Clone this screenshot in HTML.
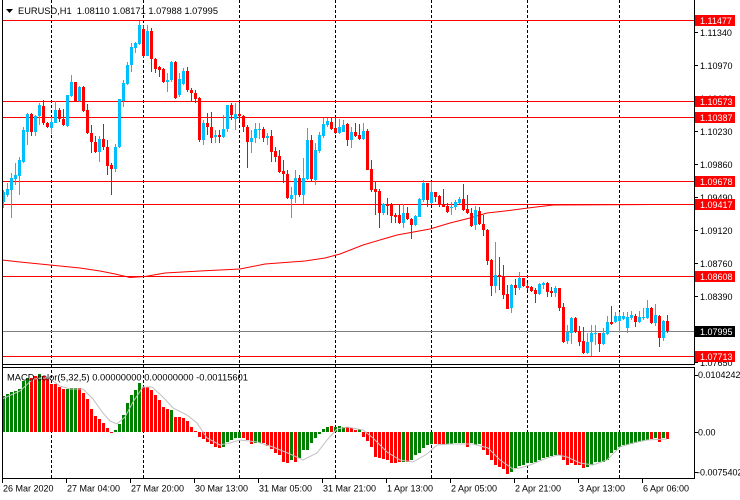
<!DOCTYPE html>
<html><head><meta charset="utf-8"><style>
html,body{margin:0;padding:0;background:#fff;}
body{width:740px;height:500px;overflow:hidden;}
svg{display:block;font-family:"Liberation Sans",Arial,sans-serif;}
</style></head><body>
<svg width="740" height="500" viewBox="0 0 740 500" xmlns="http://www.w3.org/2000/svg">
<rect width="740" height="500" fill="#fff"/>
<!-- day separators -->
<g stroke="#000" stroke-width="1" stroke-dasharray="3,2" shape-rendering="crispEdges">
<line x1="51.5" y1="0" x2="51.5" y2="478"/>
<line x1="143.5" y1="0" x2="143.5" y2="478"/>
<line x1="239.5" y1="0" x2="239.5" y2="478"/>
<line x1="335.5" y1="0" x2="335.5" y2="478"/>
<line x1="431.5" y1="0" x2="431.5" y2="478"/>
<line x1="527.5" y1="0" x2="527.5" y2="478"/>
<line x1="619.5" y1="0" x2="619.5" y2="478"/>
</g>
<!-- level lines -->
<g stroke="#ff0000" stroke-width="1" shape-rendering="crispEdges">
<line x1="2" y1="20.5" x2="694" y2="20.5"/>
<line x1="2" y1="101.5" x2="694" y2="101.5"/>
<line x1="2" y1="117.5" x2="694" y2="117.5"/>
<line x1="2" y1="181.5" x2="694" y2="181.5"/>
<line x1="2" y1="204.5" x2="694" y2="204.5"/>
<line x1="2" y1="276.5" x2="694" y2="276.5"/>
<line x1="2" y1="356.5" x2="694" y2="356.5"/>
</g>
<line x1="2" y1="331.5" x2="694" y2="331.5" stroke="#808080" stroke-width="1" shape-rendering="crispEdges"/>
<!-- moving average -->
<polyline fill="none" stroke="#ff0000" stroke-width="1" points="2,260 20,262 40,264 60,266 80,268 100,271 115,274 130,277.5 145,276.5 165,273 200,271 240,269 265,264 305,261 325,258 340,254 363,245 397,235 430,229 450,223 470,218 487,213 505,211 528,208 553,205 650,204.5"/>
<!-- candles blue -->
<g shape-rendering="crispEdges">
<path fill="none" stroke="#00BFFF" stroke-width="1" d="M3.5 190V208M7.5 183V197M11.5 173V218M15.5 163V185M19.5 157V195M23.5 127V163M27.5 113V145M35.5 115V136M39.5 103V125M51.5 117V134M55.5 101V123M67.5 95V127M71.5 75V97M79.5 86V102M99.5 136V162M115.5 144V172M119.5 99V148M123.5 80V107M127.5 62V85M131.5 43V72M135.5 42V53M139.5 21V45M147.5 25V56M167.5 73V92M171.5 61V82M179.5 73V97M183.5 68V85M203.5 120V145M215.5 130V143M223.5 115V138M227.5 105V132M235.5 103V130M251.5 130V153M255.5 123V143M259.5 123V139M267.5 133V145M291.5 187V218M295.5 170V203M303.5 158V204M307.5 128V180M315.5 143V185M319.5 132V153M323.5 118V138M327.5 118V127M339.5 119V134M343.5 120V132M351.5 127V148M363.5 123V140M383.5 203V215M403.5 204V228M415.5 215V226M419.5 198V217M423.5 180V202M431.5 182V204M451.5 202V215M455.5 200V210M459.5 197V204M475.5 206V230M495.5 242V293M511.5 284V313M519.5 272V290M539.5 283V295M543.5 282V289M555.5 286V297M567.5 325V344M571.5 317V344M587.5 333V354M591.5 325V356M595.5 325V345M603.5 328V345M607.5 316V335M615.5 312V323M619.5 312V333M623.5 312V320M627.5 312V333M631.5 311V320M639.5 311V323M643.5 308V320M647.5 300V319M655.5 304V326M663.5 320V341"/>
<path fill="#00BFFF" d="M2 192h3v10h-3zM6 189h3v6h-3zM10 178h3v12h-3zM14 175h3v4h-3zM18 160h3v16h-3zM22 130h3v32h-3zM26 114h3v18h-3zM34 116h3v16h-3zM38 105h3v11h-3zM50 122h3v6h-3zM54 110h3v13h-3zM66 95h3v31h-3zM70 82h3v14h-3zM78 87h3v14h-3zM98 139h3v13h-3zM114 147h3v22h-3zM118 99h3v48h-3zM122 83h3v18h-3zM126 65h3v19h-3zM130 47h3v18h-3zM134 43h3v5h-3zM138 25h3v19h-3zM146 31h3v25h-3zM166 80h3v2h-3zM170 62h3v18h-3zM178 79h3v16h-3zM182 71h3v13h-3zM202 123h3v17h-3zM214 135h3v2h-3zM222 129h3v8h-3zM226 105h3v24h-3zM234 114h3v5h-3zM250 138h3v4h-3zM254 129h3v9h-3zM258 129h3v1h-3zM266 136h3v2h-3zM290 195h3v4h-3zM294 178h3v17h-3zM302 178h3v17h-3zM306 140h3v39h-3zM314 150h3v30h-3zM318 135h3v16h-3zM322 124h3v12h-3zM326 121h3v4h-3zM338 127h3v6h-3zM342 125h3v7h-3zM350 132h3v8h-3zM362 131h3v8h-3zM382 204h3v9h-3zM402 213h3v10h-3zM414 216h3v9h-3zM418 199h3v18h-3zM422 183h3v17h-3zM430 192h3v11h-3zM450 207h3v1h-3zM454 202h3v5h-3zM458 199h3v4h-3zM474 210h3v15h-3zM494 275h3v11h-3zM510 285h3v23h-3zM518 278h3v10h-3zM538 284h3v10h-3zM542 283h3v2h-3zM554 288h3v5h-3zM566 332h3v9h-3zM570 318h3v15h-3zM586 342h3v11h-3zM590 333h3v9h-3zM594 333h3v1h-3zM602 333h3v11h-3zM606 322h3v12h-3zM614 316h3v6h-3zM618 316h3v5h-3zM622 316h3v3h-3zM626 317h3v11h-3zM630 315h3v3h-3zM638 317h3v5h-3zM642 317h3v1h-3zM646 308h3v10h-3zM654 315h3v8h-3zM662 321h3v17h-3z"/>
<!-- candles red -->
<path fill="none" stroke="#ff0000" stroke-width="1" d="M31.5 113V136M43.5 100V125M47.5 122V128M59.5 108V122M63.5 109V126M75.5 82V101M83.5 86V112M87.5 104V134M91.5 125V153M95.5 136V153M103.5 124V150M107.5 140V175M111.5 163V195M143.5 25V58M151.5 28V72M155.5 58V73M159.5 66V77M163.5 68V83M175.5 61V99M187.5 67V92M191.5 88V102M195.5 90V103M199.5 97V142M207.5 113V135M211.5 112V143M219.5 130V143M231.5 103V120M239.5 103V120M243.5 115V132M247.5 125V168M263.5 127V142M271.5 130V162M275.5 147V162M279.5 150V173M283.5 160V183M287.5 170V199M299.5 175V197M311.5 135V182M331.5 117V130M335.5 118V134M347.5 123V146M355.5 123V137M359.5 124V140M367.5 129V170M371.5 160V192M375.5 182V215M379.5 189V228M387.5 198V215M391.5 203V223M395.5 213V223M399.5 205V224M407.5 207V220M411.5 218V239M427.5 183V207M435.5 192V202M439.5 195V207M443.5 189V207M447.5 203V213M463.5 184V211M467.5 195V214M471.5 208V227M479.5 207V225M483.5 215V236M487.5 229V265M491.5 259V296M499.5 257V290M503.5 265V299M507.5 285V309M515.5 279V295M523.5 278V287M527.5 283V290M531.5 286V292M535.5 288V303M547.5 282V297M551.5 287V297M559.5 288V311M563.5 303V343M575.5 317V333M579.5 326V346M583.5 327V354M599.5 333V352M611.5 306V325M635.5 314V327M651.5 307V324M659.5 315V347M667.5 315V333"/>
<path fill="#ff0000" d="M30 114h3v18h-3zM42 106h3v17h-3zM46 123h3v4h-3zM58 110h3v9h-3zM62 119h3v6h-3zM74 82h3v19h-3zM82 87h3v24h-3zM86 110h3v23h-3zM90 133h3v9h-3zM94 142h3v10h-3zM102 139h3v8h-3zM106 147h3v19h-3zM110 165h3v4h-3zM142 29h3v27h-3zM150 31h3v28h-3zM154 59h3v10h-3zM158 67h3v3h-3zM162 69h3v13h-3zM174 62h3v36h-3zM186 71h3v19h-3zM190 90h3v3h-3zM194 93h3v6h-3zM198 98h3v42h-3zM206 123h3v4h-3zM210 127h3v11h-3zM218 135h3v2h-3zM230 105h3v10h-3zM238 114h3v2h-3zM242 116h3v11h-3zM246 127h3v15h-3zM262 129h3v9h-3zM270 136h3v16h-3zM274 151h3v6h-3zM278 156h3v16h-3zM282 171h3v3h-3zM286 174h3v24h-3zM298 178h3v17h-3zM310 140h3v39h-3zM330 122h3v7h-3zM334 128h3v5h-3zM346 124h3v16h-3zM354 132h3v4h-3zM358 135h3v4h-3zM366 131h3v39h-3zM370 169h3v21h-3zM374 189h3v3h-3zM378 191h3v22h-3zM386 204h3v2h-3zM390 204h3v12h-3zM394 215h3v2h-3zM398 215h3v8h-3zM406 213h3v6h-3zM410 219h3v6h-3zM426 183h3v17h-3zM434 192h3v5h-3zM438 196h3v8h-3zM442 205h3v2h-3zM446 206h3v6h-3zM462 199h3v11h-3zM466 209h3v4h-3zM470 213h3v13h-3zM478 211h3v13h-3zM482 224h3v6h-3zM486 230h3v31h-3zM490 260h3v26h-3zM498 275h3v2h-3zM502 277h3v18h-3zM506 294h3v15h-3zM514 285h3v3h-3zM522 278h3v8h-3zM526 286h3v2h-3zM530 287h3v4h-3zM534 290h3v4h-3zM546 283h3v9h-3zM550 291h3v2h-3zM558 288h3v20h-3zM562 307h3v35h-3zM574 318h3v14h-3zM578 331h3v11h-3zM582 341h3v12h-3zM598 333h3v11h-3zM610 322h3v2h-3zM634 316h3v6h-3zM650 308h3v15h-3zM658 316h3v22h-3zM666 321h3v10h-3z"/>
</g>
<!-- MACD histogram -->
<g shape-rendering="crispEdges">
<path fill="#008000" d="M2 396h3V432h-3zM6 394h3V432h-3zM10 392h3V432h-3zM14 391h3V432h-3zM18 389h3V432h-3zM22 381h3V432h-3zM26 378h3V432h-3zM38 374h3V432h-3zM66 389h3V432h-3zM70 388h3V432h-3zM74 388h3V432h-3zM114 430h3V432h-3zM118 424h3V432h-3zM122 415h3V432h-3zM126 403h3V432h-3zM130 395h3V432h-3zM134 390h3V432h-3zM138 383h3V432h-3zM170 410h3V432h-3zM322 429h3V432h-3zM326 427h3V432h-3zM334 427h3V432h-3zM338 426h3V432h-3zM342 427h3V432h-3zM358 429h3V432h-3z
M222 432h3V447h-3zM226 432h3V442h-3zM230 432h3V440h-3zM234 432h3V438h-3zM238 432h3V438h-3zM254 432h3V443h-3zM258 432h3V443h-3zM290 432h3V460h-3zM298 432h3V458h-3zM302 432h3V450h-3zM306 432h3V450h-3zM310 432h3V443h-3zM314 432h3V438h-3zM318 432h3V434h-3zM402 432h3V462h-3zM410 432h3V460h-3zM414 432h3V455h-3zM418 432h3V453h-3zM422 432h3V448h-3zM426 432h3V445h-3zM430 432h3V444h-3zM446 432h3V444h-3zM450 432h3V444h-3zM454 432h3V443h-3zM458 432h3V443h-3zM462 432h3V443h-3zM470 432h3V443h-3zM474 432h3V445h-3zM478 432h3V444h-3zM510 432h3V472h-3zM514 432h3V468h-3zM518 432h3V466h-3zM522 432h3V465h-3zM526 432h3V463h-3zM530 432h3V463h-3zM534 432h3V462h-3zM538 432h3V460h-3zM542 432h3V458h-3zM546 432h3V457h-3zM550 432h3V456h-3zM554 432h3V455h-3zM586 432h3V467h-3zM590 432h3V465h-3zM594 432h3V462h-3zM598 432h3V462h-3zM602 432h3V462h-3zM606 432h3V460h-3zM610 432h3V453h-3zM614 432h3V450h-3zM618 432h3V447h-3zM622 432h3V445h-3zM626 432h3V445h-3zM630 432h3V444h-3zM634 432h3V443h-3zM638 432h3V442h-3zM642 432h3V441h-3zM646 432h3V440h-3zM654 432h3V438h-3zM662 432h3V438h-3z"/>
<path fill="#ff0000" d="M30 378h3V432h-3zM34 376h3V432h-3zM42 376h3V432h-3zM46 379h3V432h-3zM50 384h3V432h-3zM54 384h3V432h-3zM58 387h3V432h-3zM62 389h3V432h-3zM78 388h3V432h-3zM82 393h3V432h-3zM86 399h3V432h-3zM90 409h3V432h-3zM94 416h3V432h-3zM98 419h3V432h-3zM102 423h3V432h-3zM106 428h3V432h-3zM142 387h3V432h-3zM146 387h3V432h-3zM150 390h3V432h-3zM154 395h3V432h-3zM158 400h3V432h-3zM162 407h3V432h-3zM166 409h3V432h-3zM174 417h3V432h-3zM178 417h3V432h-3zM182 418h3V432h-3zM186 421h3V432h-3zM190 427h3V432h-3zM194 431h3V432h-3zM330 426h3V432h-3zM346 427h3V432h-3zM350 428h3V432h-3zM354 430h3V432h-3z
M110 432h3V433h-3zM198 432h3V437h-3zM202 432h3V439h-3zM206 432h3V442h-3zM210 432h3V444h-3zM214 432h3V447h-3zM218 432h3V448h-3zM242 432h3V438h-3zM246 432h3V440h-3zM250 432h3V444h-3zM262 432h3V443h-3zM266 432h3V446h-3zM270 432h3V449h-3zM274 432h3V453h-3zM278 432h3V455h-3zM282 432h3V462h-3zM286 432h3V463h-3zM294 432h3V462h-3zM362 432h3V437h-3zM366 432h3V441h-3zM370 432h3V447h-3zM374 432h3V457h-3zM378 432h3V458h-3zM382 432h3V459h-3zM386 432h3V460h-3zM390 432h3V463h-3zM394 432h3V463h-3zM398 432h3V462h-3zM406 432h3V462h-3zM434 432h3V444h-3zM438 432h3V444h-3zM442 432h3V445h-3zM466 432h3V447h-3zM482 432h3V450h-3zM486 432h3V455h-3zM490 432h3V460h-3zM494 432h3V465h-3zM498 432h3V467h-3zM502 432h3V469h-3zM506 432h3V474h-3zM558 432h3V455h-3zM562 432h3V460h-3zM566 432h3V465h-3zM570 432h3V463h-3zM574 432h3V465h-3zM578 432h3V465h-3zM582 432h3V468h-3zM650 432h3V439h-3zM658 432h3V442h-3zM666 432h3V439h-3z"/>
</g>
<!-- MACD signal -->
<polyline fill="none" stroke="#c0c0c0" stroke-width="1" points="2,399 20,391 33,379 43,378 50,379 60,386 70,389 83,389 93,399 103,413 110,421 117,424 125,417 133,402 143,387 152,387 163,397 173,408 187,415 197,423 207,438 220,445 230,443 240,440 257,442 273,447 290,454 303,460 317,453 327,440 337,429 347,427 363,430 373,438 387,452 400,460 413,462 427,454 437,445 450,444 473,444 488,448 500,460 513,469 520,468 530,465 547,458 558,455 567,457 580,463 593,465 607,460 620,447 633,443 647,440 667,439"/>
<!-- frames -->
<g stroke="#000" stroke-width="1" shape-rendering="crispEdges" fill="none">
<line x1="2.5" y1="0" x2="2.5" y2="479"/>
<line x1="694.5" y1="0" x2="694.5" y2="365"/>
<line x1="2" y1="364.5" x2="695" y2="364.5"/>
<line x1="2" y1="367.5" x2="695" y2="367.5"/>
<line x1="694.5" y1="367" x2="694.5" y2="479"/>
<line x1="2" y1="478.5" x2="695" y2="478.5"/>
<!-- price ticks -->
<path d="M695 32.5h3M695 65.5h3M695 98.5h3M695 131.5h3M695 164.5h3M695 197.5h3M695 230.5h3M695 263.5h3M695 296.5h3M695 329.5h3M695 362.5h3M695 375.5h3M695 432.5h3M695 472.5h3"/>
<!-- time ticks -->
<path d="M2.5 479v4M66.5 479v4M130.5 479v4M194.5 479v4M258.5 479v4M322.5 479v4M386.5 479v4M450.5 479v4M514.5 479v4M578.5 479v4M642.5 479v4"/>
</g>
<!-- header -->
<polygon points="6,9 13,9 9.5,13" fill="#000"/>
<text x="18" y="14" font-size="9.5" fill="#000" textLength="200" lengthAdjust="spacingAndGlyphs" xml:space="preserve">EURUSD,H1  1.08110 1.08171 1.07988 1.07995</text>
<text x="7" y="380.5" font-size="9.2" fill="#000" textLength="241" lengthAdjust="spacingAndGlyphs">MACD color(5,32,5) 0.00000000 0.00000000 -0.00115601</text>
<!-- price labels -->
<g font-size="9" fill="#000">
<text x="700" y="35.8">1.11340</text>
<text x="700" y="68.8">1.10970</text>
<text x="700" y="101.8">1.10600</text>
<text x="700" y="134.9">1.10230</text>
<text x="700" y="167.9">1.09860</text>
<text x="700" y="200.9">1.09490</text>
<text x="700" y="233.9">1.09120</text>
<text x="700" y="266.9">1.08760</text>
<text x="700" y="299.9">1.08390</text>
<text x="700" y="332.9">1.08020</text>
<text x="700" y="365.9">1.07650</text>
<text x="698" y="378">0.0104242</text>
<text x="698" y="435.5">0.00</text>
<text x="697" y="475.5">-0.0075402</text>
</g>
<!-- level labels -->
<g shape-rendering="crispEdges">
<rect x="695" y="15" width="40" height="11" fill="#ff0000"/>
<rect x="695" y="96" width="40" height="11" fill="#ff0000"/>
<rect x="695" y="112" width="40" height="11" fill="#ff0000"/>
<rect x="695" y="176" width="40" height="11" fill="#ff0000"/>
<rect x="695" y="199" width="40" height="11" fill="#ff0000"/>
<rect x="695" y="271" width="40" height="11" fill="#ff0000"/>
<rect x="695" y="326" width="40" height="11" fill="#000"/>
<rect x="695" y="351" width="40" height="11" fill="#ff0000"/>
</g>
<g font-size="9" fill="#fff">
<text x="700" y="24">1.11477</text>
<text x="700" y="105">1.10573</text>
<text x="700" y="121">1.10387</text>
<text x="700" y="185">1.09678</text>
<text x="700" y="208">1.09417</text>
<text x="700" y="280">1.08608</text>
<text x="700" y="335">1.07995</text>
<text x="700" y="360">1.07713</text>
</g>
<!-- time labels -->
<g font-size="9" fill="#000">
<text x="3" y="491.5">26 Mar 2020</text>
<text x="67" y="491.5">27 Mar 04:00</text>
<text x="131" y="491.5">27 Mar 20:00</text>
<text x="195" y="491.5">30 Mar 13:00</text>
<text x="259" y="491.5">31 Mar 05:00</text>
<text x="323" y="491.5">31 Mar 21:00</text>
<text x="387" y="491.5">1 Apr 13:00</text>
<text x="451" y="491.5">2 Apr 05:00</text>
<text x="515" y="491.5">2 Apr 21:00</text>
<text x="579" y="491.5">3 Apr 13:00</text>
<text x="643" y="491.5">6 Apr 06:00</text>
</g>
</svg>
</body></html>
